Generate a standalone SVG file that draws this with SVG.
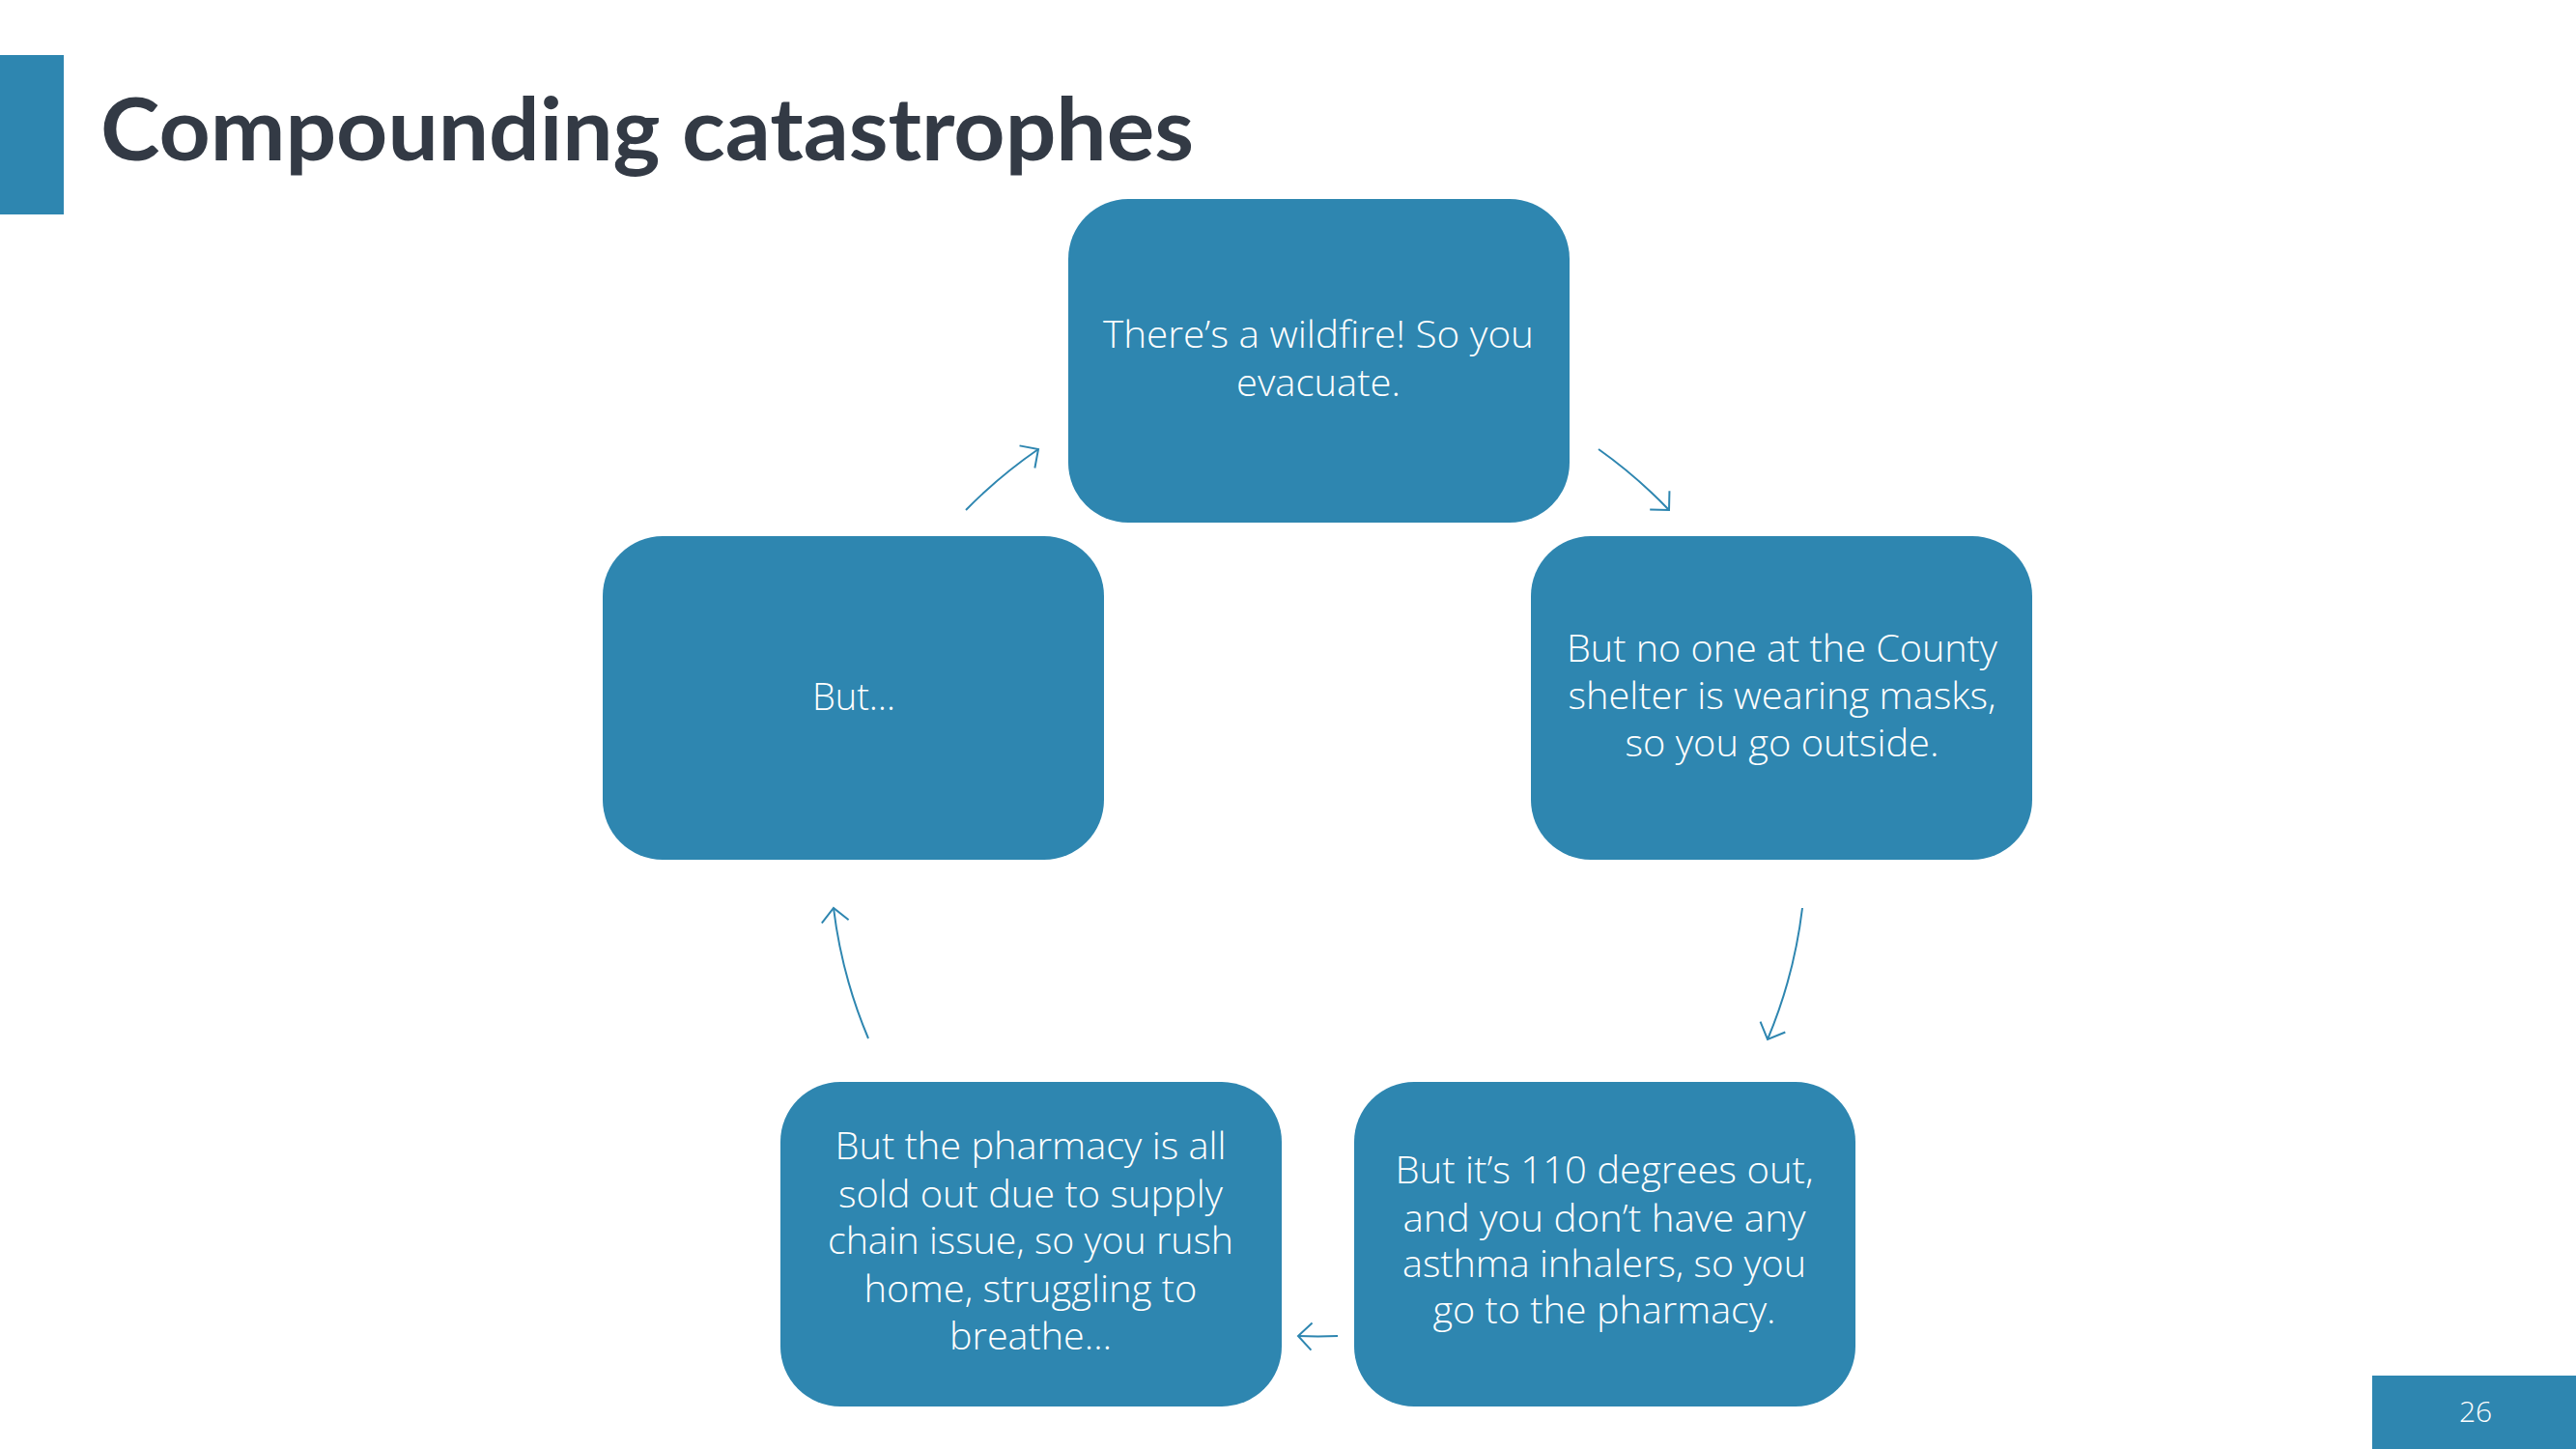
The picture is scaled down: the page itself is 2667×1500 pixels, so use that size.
<svg xmlns="http://www.w3.org/2000/svg" width="2667" height="1500" viewBox="0 0 2667 1500">
<defs>
<style>
.box{fill:#2E86B0;}
.t{font-family:"Open Sans","Noto Sans","Liberation Sans",sans-serif;font-weight:300;font-size:38px;fill:#FFFFFF;text-anchor:middle;}
.title{font-family:Lato,"Open Sans","Liberation Sans",sans-serif;font-weight:700;font-size:90px;fill:#333A45;}
.conn{fill:none;stroke:#2E86B0;stroke-width:2;}
</style>
<marker id="ah" markerUnits="userSpaceOnUse" markerWidth="40" markerHeight="40" refX="20" refY="20" orient="auto" viewBox="0 0 40 40">
<path d="M 6 6 L 20 20 L 6 34" fill="none" stroke="#2E86B0" stroke-width="2"/>
</marker>
</defs>
<rect width="2667" height="1500" fill="#FFFFFF"/>
<g id="header">
<rect x="0" y="57" width="66" height="165" fill="#2E86B0"/>
<text class="title" x="104" y="166" textLength="1132" lengthAdjust="spacingAndGlyphs">Compounding catastrophes</text>
</g>
<g id="connectors">
<path class="conn" marker-end="url(#ah)" d="M 1655 465 A 505 505 0 0 1 1728 528"/>
<path class="conn" marker-end="url(#ah)" d="M 1866 940 A 505 505 0 0 1 1830 1076"/>
<path class="conn" marker-end="url(#ah)" d="M 1385 1383 A 505 505 0 0 1 1344 1383"/>
<path class="conn" marker-end="url(#ah)" d="M 899 1075 A 505 505 0 0 1 863 940"/>
<path class="conn" marker-end="url(#ah)" d="M 1000 528 A 505 505 0 0 1 1075 465"/>
</g>
<g id="node-top">
<rect class="box" x="1106" y="206" width="519" height="335" rx="62" ry="62"/>
<text class="t" x="1365" y="360" textLength="446" lengthAdjust="spacingAndGlyphs">There’s a wildfire! So you</text>
<text class="t" x="1365" y="410" textLength="170" lengthAdjust="spacingAndGlyphs">evacuate.</text>
</g>
<g id="node-right">
<rect class="box" x="1585" y="555" width="519" height="335" rx="62" ry="62"/>
<text class="t" x="1845" y="685" textLength="446" lengthAdjust="spacingAndGlyphs">But no one at the County</text>
<text class="t" x="1845" y="734" textLength="443" lengthAdjust="spacingAndGlyphs">shelter is wearing masks,</text>
<text class="t" x="1845" y="783" textLength="325" lengthAdjust="spacingAndGlyphs">so you go outside.</text>
</g>
<g id="node-bottom-right">
<rect class="box" x="1402" y="1120" width="519" height="336" rx="62" ry="62"/>
<text class="t" x="1661" y="1225" textLength="433" lengthAdjust="spacingAndGlyphs">But it’s 110 degrees out,</text>
<text class="t" x="1661" y="1275" textLength="417" lengthAdjust="spacingAndGlyphs">and you don’t have any</text>
<text class="t" x="1661" y="1322" textLength="418" lengthAdjust="spacingAndGlyphs">asthma inhalers, so you</text>
<text class="t" x="1661" y="1370" textLength="355" lengthAdjust="spacingAndGlyphs">go to the pharmacy.</text>
</g>
<g id="node-bottom-left">
<rect class="box" x="808" y="1120" width="519" height="336" rx="62" ry="62"/>
<text class="t" x="1067" y="1200" textLength="405" lengthAdjust="spacingAndGlyphs">But the pharmacy is all</text>
<text class="t" x="1067" y="1250" textLength="398" lengthAdjust="spacingAndGlyphs">sold out due to supply</text>
<text class="t" x="1067" y="1298" textLength="420" lengthAdjust="spacingAndGlyphs">chain issue, so you rush</text>
<text class="t" x="1067" y="1348" textLength="345" lengthAdjust="spacingAndGlyphs">home, struggling to</text>
<text class="t" x="1067" y="1397" textLength="168" lengthAdjust="spacingAndGlyphs">breathe…</text>
</g>
<g id="node-left">
<rect class="box" x="624" y="555" width="519" height="335" rx="62" ry="62"/>
<text class="t" x="884" y="735">But…</text>
</g>
<g id="page-number">
<rect x="2456" y="1424" width="211" height="76" fill="#2E86B0"/>
<text class="t" x="2563" y="1472" style="font-size:30px">26</text>
</g>
</svg>
